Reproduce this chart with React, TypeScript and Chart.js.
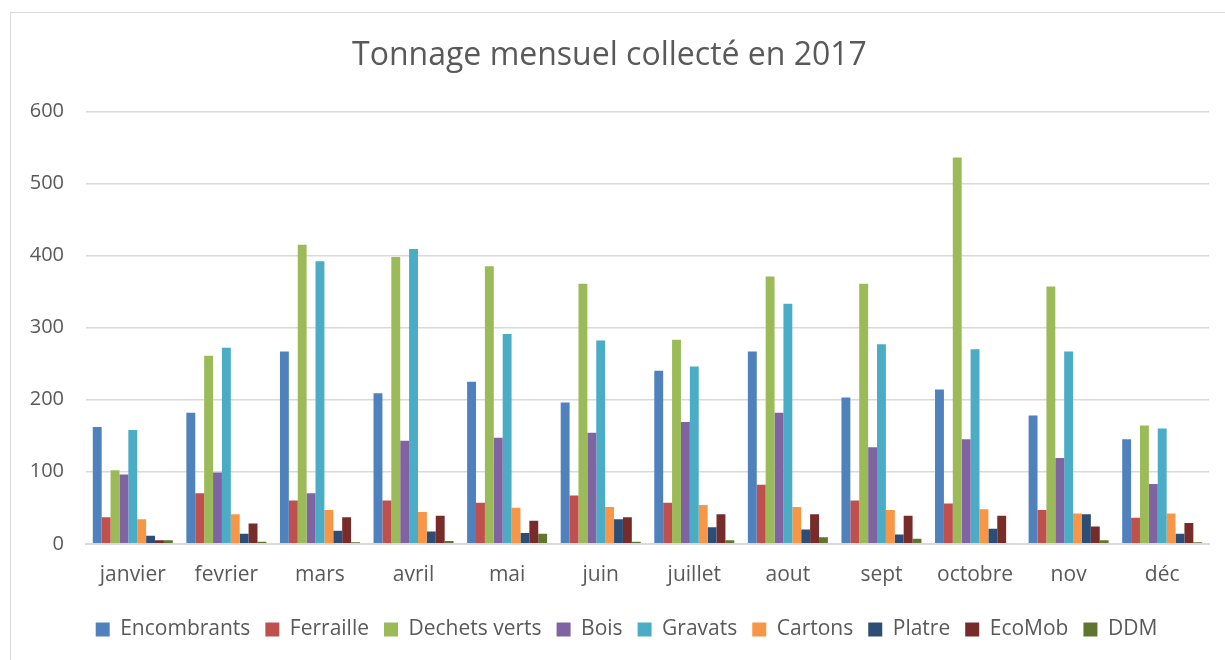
import React, { useEffect, useRef } from "react";
import { Chart, registerables } from "chart.js";

Chart.register(...registerables);

const months = ["janvier", "fevrier", "mars", "avril", "mai", "juin", "juillet", "aout", "sept", "octobre", "nov", "déc"];

const encombrants = [162, 182, 267, 209, 225, 196, 240, 267, 203, 214, 178, 145];
const ferraille = [37, 70, 60, 60, 57, 67, 57, 82, 60, 56, 47, 36];
const dechetsVerts = [102, 261, 415, 398, 385, 361, 283, 371, 361, 536, 357, 164];
const bois = [96, 99, 70, 143, 147, 154, 169, 182, 134, 145, 119, 83];
const gravats = [158, 272, 392, 409, 291, 282, 246, 333, 277, 270, 267, 160];
const cartons = [34, 41, 47, 44, 50, 51, 54, 51, 47, 48, 42, 42];
const platre = [11, 14, 18, 17, 15, 34, 23, 20, 13, 21, 41, 14];
const ecoMob = [5, 28, 37, 39, 32, 37, 41, 41, 39, 39, 24, 29];
const ddm = [5, 3, 2, 4, 14, 3, 5, 9, 7, 0, 5, 2];

const seriesNames = ["Encombrants", "Ferraille", "Dechets verts", "Bois", "Gravats", "Cartons", "Platre", "EcoMob", "DDM"];
const seriesData = [encombrants, ferraille, dechetsVerts, bois, gravats, cartons, platre, ecoMob, ddm];
const seriesColors = ["#4F81BD", "#C0504D", "#9BBB59", "#8064A2", "#4BACC6", "#F79646", "#2C4D75", "#772C2A", "#5F7530"];

const yTicks = [0, 100, 200, 300, 400, 500, 600];

const FONT = "'Open Sans', sans-serif";
const TEXT = "#595959";

const legendShift = {
  id: "legendShift",
  afterLayout(chart: any) {
    const l = chart.legend;
    if (!l) return;
    l.left += 17;
    l.right += 17;
    l.top -= 3;
    l.bottom -= 3;
  },
};

export default function App() {
  const ref = useRef<HTMLCanvasElement | null>(null);

  useEffect(() => {
    if (!ref.current) return;
    const chart = new Chart(ref.current, {
      type: "bar",
      data: {
        labels: months,
        datasets: seriesNames.map((name, i) => ({
          label: name,
          data: seriesData[i],
          backgroundColor: seriesColors[i],
          borderWidth: 0,
          barPercentage: 1,
          categoryPercentage: 0.855,
        })),
      },
      plugins: [legendShift],
      options: {
        animation: false,
        responsive: false,
        maintainAspectRatio: false,
        layout: { padding: { left: 10, right: 16, top: 0, bottom: 7 } },
        plugins: {
          title: {
            display: true,
            text: "Tonnage mensuel collecté en 2017",
            color: TEXT,
            font: { family: FONT, size: 32, weight: "normal" },
            padding: { top: 37, bottom: 36 },
          },
          legend: {
            position: "bottom",
            labels: {
              color: TEXT,
              font: { family: FONT, size: 21 },
              boxWidth: 14,
              boxHeight: 14,
              padding: 15,
            },
          },
          tooltip: { enabled: false },
        },
        scales: {
          x: {
            grid: { display: false, drawTicks: false },
            border: { display: true, color: "#d9d9d9", width: 2 },
            ticks: { color: TEXT, font: { family: FONT, size: 21 }, padding: 19, maxRotation: 0 },
          },
          y: {
            min: 0,
            max: 600,
            afterBuildTicks: (scale: any) => {
              scale.ticks = yTicks.map((v) => ({ value: v }));
            },
            afterFit: (scale: any) => {
              scale.width = 76;
            },
            grid: { color: "#d9d9d9", lineWidth: 1.5, drawTicks: false },
            border: { display: false },
            ticks: { color: TEXT, font: { family: FONT, size: 20 }, padding: 22 },
          },
        },
      },
    });
    return () => chart.destroy();
  }, []);

  return (
    <div style={{ position: "fixed", left: 0, top: 0, width: 1225, height: 660, background: "#fff", overflow: "hidden" }}>
      <div
        style={{
          position: "absolute",
          left: 10,
          top: 12,
          width: 1240,
          height: 700,
          border: "1.5px solid #d9d9d9",
          boxSizing: "border-box",
        }}
      />
      <canvas ref={ref} width={1225} height={660} style={{ position: "absolute", left: 0, top: 0 }} />
    </div>
  );
}
